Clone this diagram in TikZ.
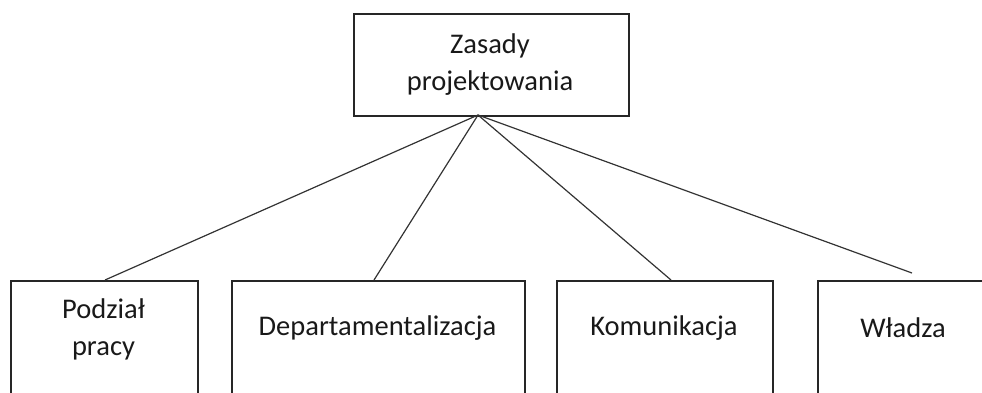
\documentclass[tikz,border=0pt]{standalone}
\usepackage{fontspec}
\setmainfont{Carlito}
\begin{document}
\begin{tikzpicture}[x=1pt,y=-1pt,
  box/.style={draw=black!85, line width=2.4pt, anchor=north west, inner sep=0pt},
  lbl/.style={font=\fontsize{28.5}{37}\selectfont, align=center, text=black!90, inner sep=0pt},
  link/.style={draw=black!80, line width=1.2pt}]
  \useasboundingbox (0,0) rectangle (982,392);
  \begin{scope}
    \clip (0,0) rectangle (982,392);
    % top box
    \node[box, minimum width=275, minimum height=102] (top) at (353,13) {};
    \node[lbl] (toptxt) at (490,65) {Zasady\\projektowania};
    % bottom row (boxes run past the lower edge)
    \node[box, minimum width=187, minimum height=140] (b1) at (10,280) {};
    \node[box, minimum width=293, minimum height=140] (b2) at (231,280) {};
    \node[box, minimum width=216, minimum height=140] (b3) at (556,280) {};
    \node[box, minimum width=172, minimum height=140] (b4) at (817,280) {};
    \node[lbl] (t1) at (103.5,329) {Podział\\pracy};
    \node[lbl] (t2) at (377.5,328) {Departamentalizacja};
    \node[lbl] (t3) at (664,328) {Komunikacja};
    \node[lbl] (t4) at (903,328) {Władza};
    % connector points
    \coordinate (hub) at (478,115);
    \coordinate (e1) at (105,280);
    \coordinate (e2) at (374,280);
    \coordinate (e3) at (671,280);
    \coordinate (e4) at (912,273);
    \draw[link] (hub) -- (e1);
    \draw[link] (hub) -- (e2);
    \draw[link] (hub) -- (e3);
    \draw[link] (hub) -- (e4);
  \end{scope}
\end{tikzpicture}
\end{document}
